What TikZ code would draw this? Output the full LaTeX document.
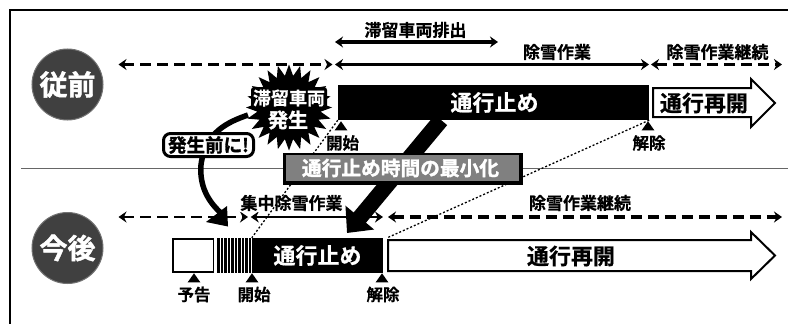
\documentclass[tikz,border=0pt]{standalone}
\usepackage{fontspec}
\setmainfont{Noto Sans CJK JP}
\newfontfamily\fatfont{Noto Sans CJK JP Bold}[FakeBold=0.5]
\newfontfamily\xfatfont{Noto Sans CJK JP Bold}[FakeBold=1.6]
\usetikzlibrary{arrows.meta,shapes.geometric,calc}
\newcommand{\fsz}[1]{\fatfont\fontsize{#1}{#1}\selectfont}
\newcommand{\fsx}[1]{\xfatfont\fontsize{#1}{#1}\selectfont}
\tikzset{
  x=1pt,y=-1pt,
  spanb/.style={line width=3.3pt,{Stealth[length=8pt,width=11pt]}-{Stealth[length=8pt,width=11pt]}},
  dashb/.style={spanb,dash pattern=on 11pt off 6pt},
  lbl/.style={inner sep=0pt,font=\fsz{17}},
  era/.style={circle,fill=black!75,draw=black!55,line width=1pt,minimum size=71pt,inner sep=0pt,text=white,font=\fsx{28}},
  bar/.style={fill=black,inner sep=0pt,text=white,font=\fsz{22}},
  passarrow/.style={draw=black,fill=white,line width=2pt,miter limit=10},
  dots/.style={line width=1.3pt,dash pattern=on 2pt off 2pt},
  tick/.style={isosceles triangle,isosceles triangle apex angle=70,shape border rotate=90,fill=black,inner sep=0pt,minimum width=12pt,minimum height=9pt},
  tlbl/.style={inner sep=0pt,font=\fsz{16.5}},
}
\begin{document}
\begin{tikzpicture}
\useasboundingbox (0,0) rectangle (788,324);
\fill[white] (0,0) rectangle (788,324);
% frame and separator
\draw[line width=2pt] (10,324) -- (10,9.5) -- (788,9.5);
\coordinate (sepL) at (21,168.5);
\coordinate (sepR) at (788,168.5);
\draw[black!60,line width=1.3pt] (sepL) -- (sepR);

% eras
\node[era] (past) at (67.5,84.5) {従前};
\node[era] (future) at (67.5,248) {今後};

% upper spans
\coordinate (a0) at (118.5,64.5);
\coordinate (a1) at (332.5,64.5);
\coordinate (a2) at (335,64.5);
\coordinate (a3) at (649,64.5);
\coordinate (a4) at (651,64.5);
\coordinate (a5) at (782,64.5);
\coordinate (b0) at (335,42);
\coordinate (b1) at (498,42);
\draw[dashb] (a0) -- (a1);
\draw[spanb] (a2) -- (a3);
\draw[dashb] (a4) -- (a5);
\draw[spanb] (b0) -- (b1);
\node[lbl] (l1) at (415.5,30) {滞留車両排出};
\node[lbl] (l2) at (557,52) {除雪作業};
\node[lbl] (l3) at (717.5,52) {除雪作業継続};

% upper bar
\node[bar,minimum width=311pt,minimum height=35pt] (stopA) at (493.5,102.5) {\hspace{2pt}通行止め};
\path[passarrow] (653,88) -- (751,88) -- (751,79) -- (775,103) -- (751,127) -- (751,117) -- (653,117) -- cycle;
\node[inner sep=0pt,font=\fsz{22}] (openA) at (704,103) {通行再開};

% lower spans
\coordinate (c0) at (118.5,217);
\coordinate (c1) at (248,217);
\coordinate (c2) at (250.7,217);
\coordinate (c3) at (383,217);
\coordinate (c4) at (388,217);
\coordinate (c5) at (782,217);
\draw[dashb,line width=2.4pt] (c0) -- (c1);
\draw[spanb,line width=2.4pt] (c2) -- (c3);
\draw[dashb] (c4) -- (c5);
\node[lbl] (l5) at (580,203) {除雪作業継続};
\node[lbl,fill=white,inner sep=1pt] (l4) at (291.5,203) {集中除雪作業};

% lower bar
\draw[fill=white,line width=1.6pt] (173,239) rectangle (213.5,272);
\node[bar,minimum width=131pt,minimum height=35pt] (stopB) at (317.5,255.5) {通行止め};
\foreach \i in {0,...,9} \fill (217+\i*3.5,238) rectangle +(2.5,35);
\path[passarrow] (388,240) -- (751,240) -- (751,232) -- (775,255.5) -- (751,279) -- (751,271) -- (388,271) -- cycle;
\node[inner sep=0pt,font=\fsz{22}] (openB) at (571,256) {通行再開};

% ticks
\node[tick] (t1) at (341,127) {};
\node[tlbl] (t1l) at (342.5,143) {開始};
\node[tick] (t2) at (648,127) {};
\node[tlbl] (t2l) at (649,143) {解除};
\node[tick] (t3) at (194,279) {};
\node[tlbl] (t3l) at (194,294.5) {予告};
\node[tick] (t4) at (252,279) {};
\node[tlbl] (t4l) at (254,294.5) {開始};
\node[tick] (t5) at (382,279) {};
\node[tlbl] (t5l) at (383,294.5) {解除};

% dotted links
\draw[dots] (stopA.south west) -- (stopB.north west);
\draw[dots] (stopA.south east) -- ($(stopB.north east)+(4,0)$);

% big shrink arrow
\coordinate (big0) at (441,120);
\coordinate (big1) at (347,233);
\draw[line width=16pt,-{Triangle[length=20pt,width=36pt]}] (big0) -- (big1);
\fill[black] (283,153) rectangle (523,185);
\fill[black!50] (285.5,155) rectangle (519,181);
\node[inner sep=0pt,text=white,font=\fsx{19.7}] (banner) at (400.5,168) {通行止め時間の最小化};

% burst
\node[star,star points=24,star point ratio=1.35,fill=black,minimum size=86pt,inner sep=0pt] (burst) at (289,107.5) {};
\fill[rounded corners=3pt] (251,87) rectangle (327,109);
\node[inner sep=0pt,text=white,font=\fsz{18}] (burst1) at (289,98) {滞留車両};
\node[inner sep=0pt,text=white,font=\fsx{20}] (burst2) at (288,120) {発生};

% before-occurrence arrow
\coordinate (curS) at (248,115);
\draw[line width=5.5pt] (curS) .. controls (228,122) and (205,132) .. (201,165)
  .. controls (199,190) and (212,205) .. (222,214);
\fill (206,222) -- (228,226.5) -- (227,206) -- cycle;
\node[draw=black,fill=white,line width=3pt,rounded corners=7pt,minimum width=90pt,minimum height=23pt,inner sep=0pt,font=\fsx{18.5}] (before) at (208.5,145) {発生前に!};
\end{tikzpicture}
\end{document}
